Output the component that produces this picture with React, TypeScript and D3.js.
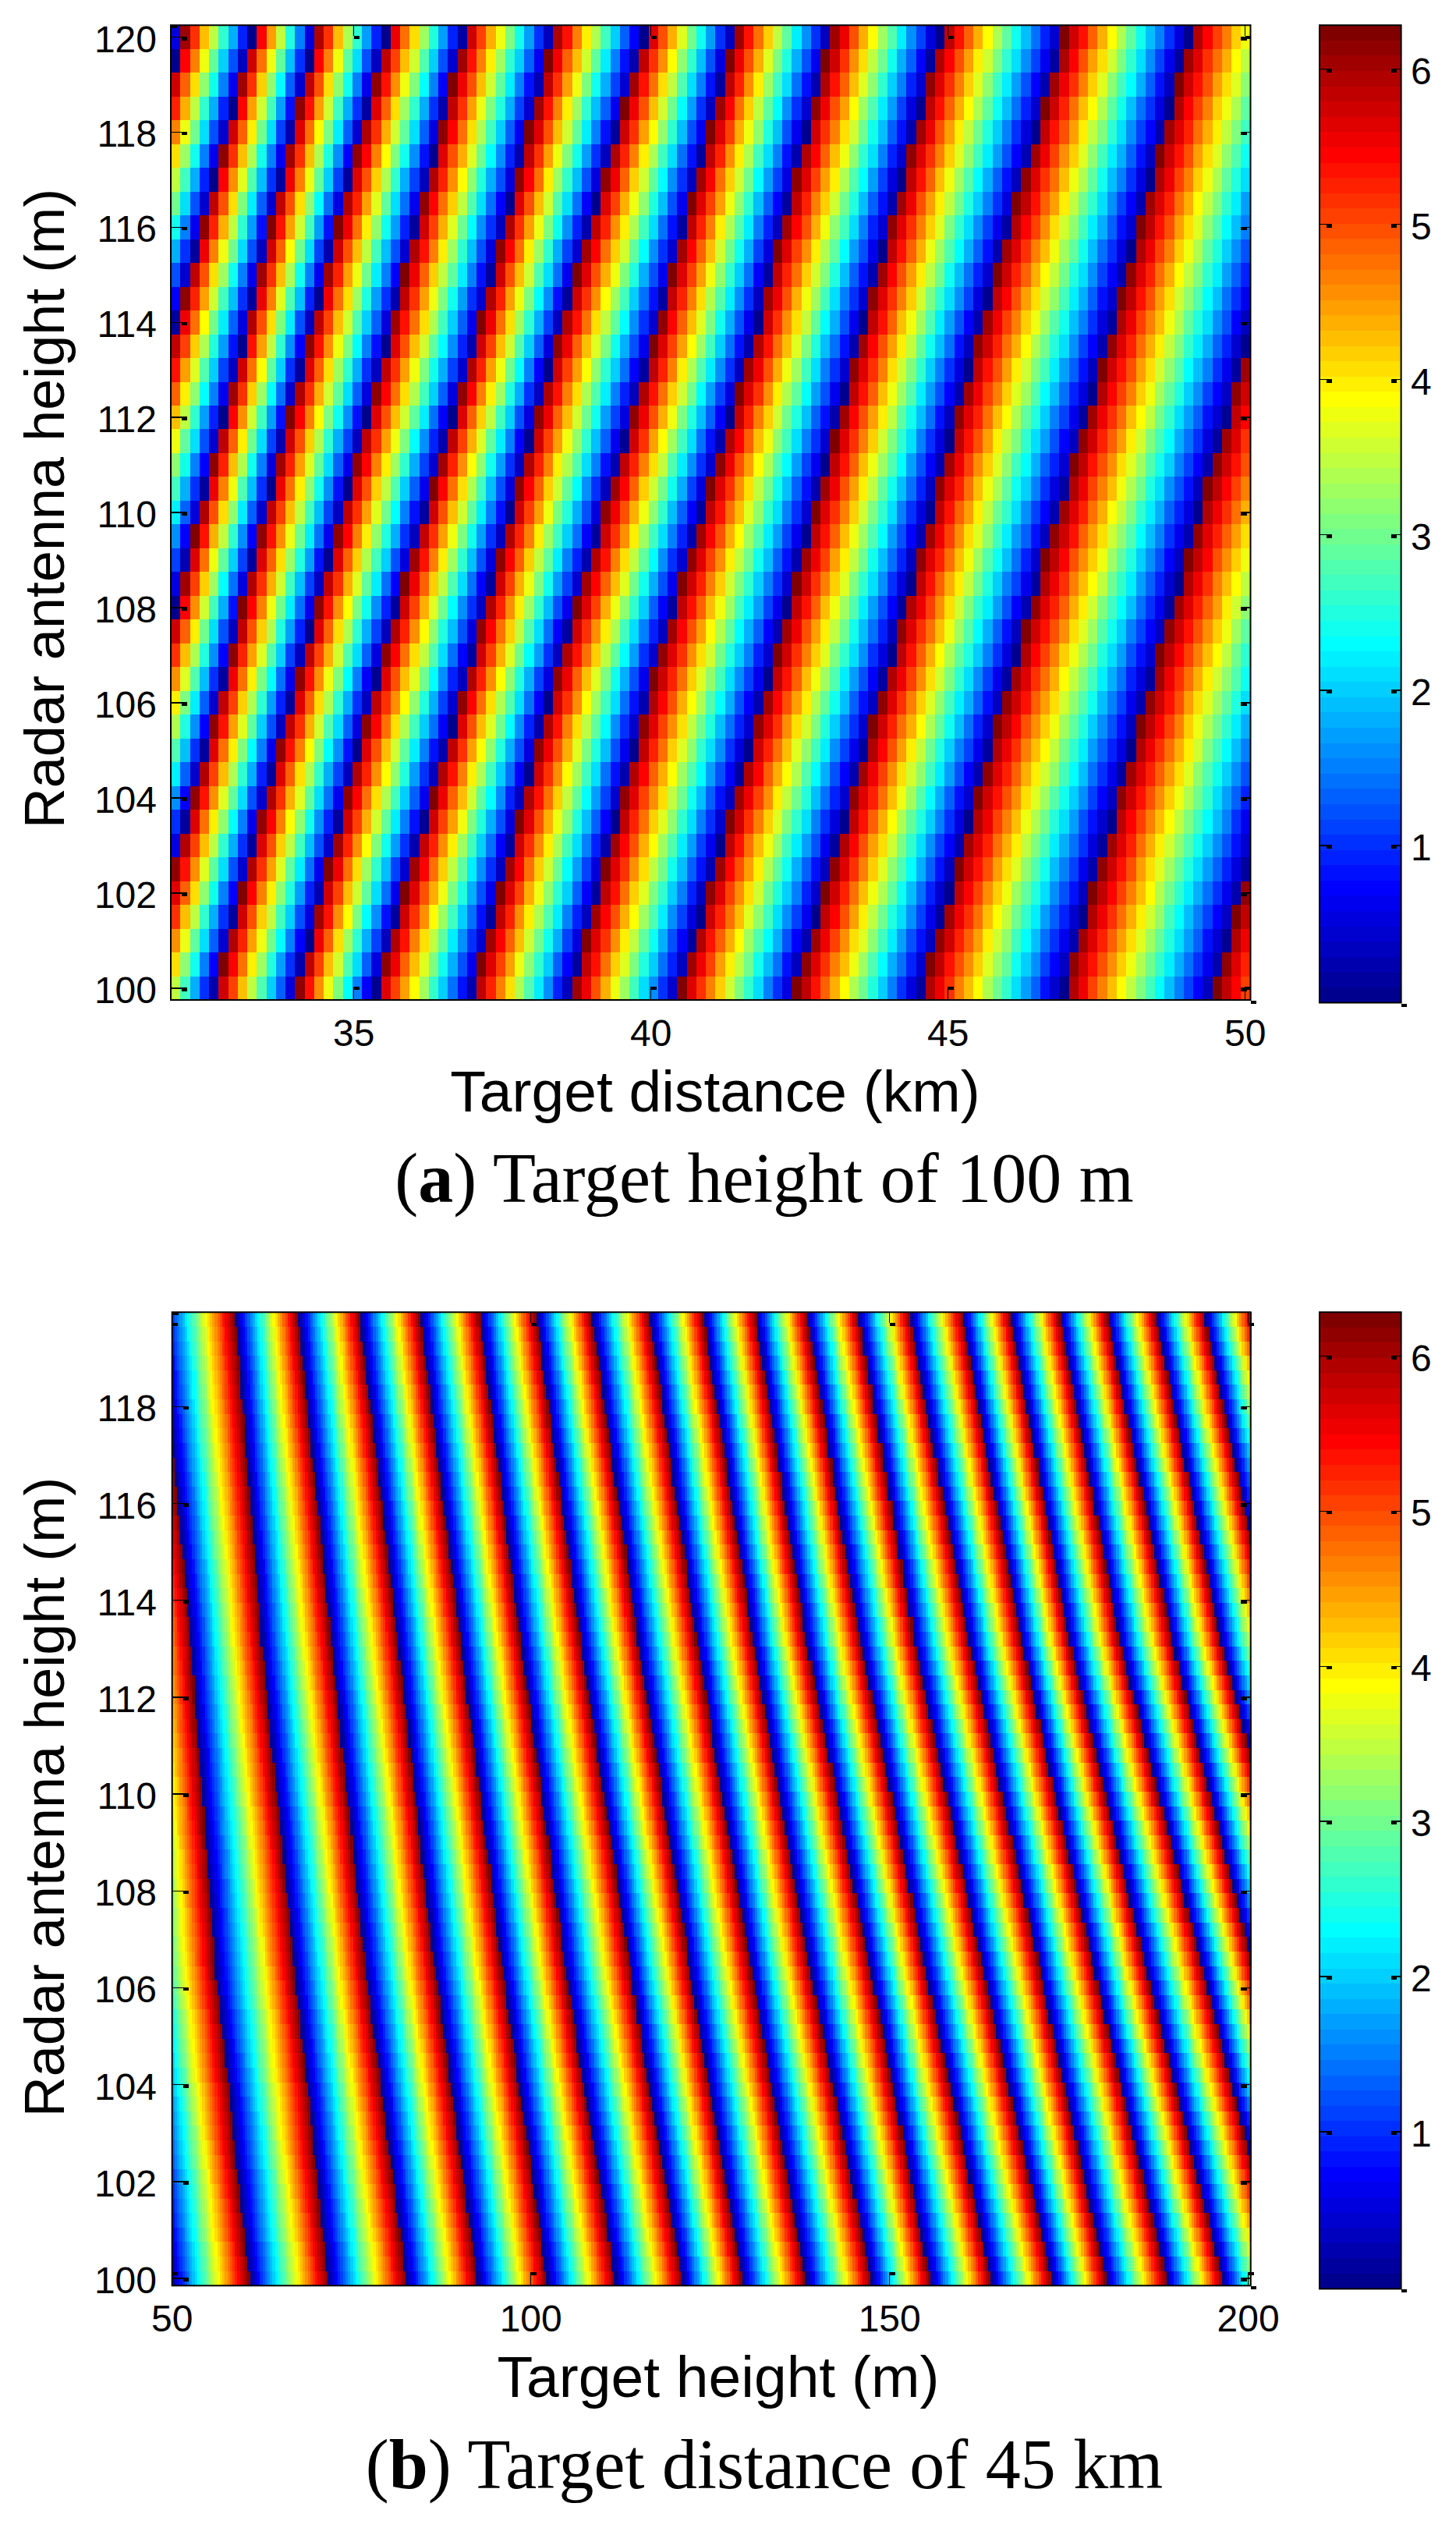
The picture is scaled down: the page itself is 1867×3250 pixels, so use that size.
import { useEffect, useRef } from "react";
import * as d3 from "d3";

const PHASE_MAX = 6.283;

// jet colormap, 64 levels like the colorbars
const JET_STOPS = [0, 7 / 63, 23 / 63, 39 / 63, 55 / 63, 1];
const JET_COLORS = ["#00008f", "#0000ff", "#00ffff", "#ffff00", "#ff0000", "#800000"];

const CBAR_TICKS = [1, 2, 3, 4, 5, 6];

const A_X_TICKS = [35, 40, 45, 50];
const A_Y_TICKS = [100, 102, 104, 106, 108, 110, 112, 114, 116, 118, 120];
const B_X_TICKS = [50, 100, 150, 200];
const B_Y_TICKS = [100, 102, 104, 106, 108, 110, 112, 114, 116, 118];

// (a) target distance (km) where the phase wraps, one list per stripe, 41 rows from the top row down
const A_STRIPES = [
  [32.11, 32.01, 31.9, 31.8, 31.69, 31.59, 31.48, 31.38, 31.27, 31.17, 31.06, 30.96, 30.85, 30.75,
    30.65, 30.54, 30.44, 30.33, 30.23, 30.12, 30.02, 29.91, 29.81, 29.7, 29.6, 29.49, 29.39, 29.28,
    29.18, 29.07, 28.97, 28.86, 28.76, 28.65, 28.55, 28.44, 28.34, 28.23, 28.13, 28.02, 27.92],
  [33.3, 33.19, 33.09, 32.98, 32.88, 32.77, 32.66, 32.56, 32.45, 32.35, 32.24, 32.13, 32.03, 31.92,
    31.82, 31.72, 31.62, 31.51, 31.41, 31.31, 31.21, 31.11, 31.01, 30.9, 30.8, 30.7, 30.6, 30.5,
    30.4, 30.3, 30.2, 30.1, 30.0, 29.9, 29.8, 29.7, 29.6, 29.5, 29.4, 29.3, 29.2],
  [34.35, 34.26, 34.16, 34.07, 33.97, 33.88, 33.79, 33.69, 33.6, 33.51, 33.41, 33.32, 33.22, 33.13,
    33.03, 32.93, 32.82, 32.72, 32.62, 32.52, 32.42, 32.31, 32.21, 32.11, 32.01, 31.9, 31.8, 31.7,
    31.59, 31.48, 31.38, 31.27, 31.16, 31.05, 30.95, 30.84, 30.73, 30.62, 30.52, 30.41, 30.3],
  [35.55, 35.45, 35.34, 35.24, 35.14, 35.03, 34.93, 34.83, 34.73, 34.62, 34.52, 34.42, 34.31, 34.21,
    34.11, 34.01, 33.91, 33.81, 33.71, 33.62, 33.52, 33.42, 33.32, 33.22, 33.12, 33.03, 32.93, 32.83,
    32.72, 32.62, 32.51, 32.41, 32.3, 32.19, 32.09, 31.98, 31.88, 31.77, 31.66, 31.56, 31.45],
  [36.86, 36.76, 36.66, 36.56, 36.46, 36.36, 36.25, 36.15, 36.05, 35.95, 35.85, 35.75, 35.65, 35.55,
    35.44, 35.34, 35.23, 35.12, 35.02, 34.91, 34.8, 34.7, 34.59, 34.48, 34.37, 34.27, 34.16, 34.05,
    33.95, 33.84, 33.74, 33.63, 33.53, 33.42, 33.32, 33.21, 33.11, 33.0, 32.9, 32.79, 32.69],
  [38.36, 38.26, 38.16, 38.05, 37.95, 37.85, 37.75, 37.65, 37.54, 37.44, 37.34, 37.24, 37.14, 37.04,
    36.92, 36.8, 36.68, 36.56, 36.44, 36.32, 36.21, 36.09, 35.97, 35.85, 35.73, 35.61, 35.5, 35.38,
    35.28, 35.18, 35.07, 34.97, 34.87, 34.77, 34.67, 34.56, 34.46, 34.36, 34.26, 34.15, 34.05],
  [39.89, 39.77, 39.66, 39.54, 39.43, 39.31, 39.2, 39.08, 38.97, 38.85, 38.74, 38.62, 38.51, 38.39,
    38.28, 38.18, 38.07, 37.96, 37.86, 37.75, 37.65, 37.54, 37.43, 37.33, 37.22, 37.11, 37.01, 36.9,
    36.78, 36.67, 36.55, 36.43, 36.32, 36.2, 36.08, 35.96, 35.85, 35.73, 35.61, 35.5, 35.38],
  [41.42, 41.31, 41.21, 41.1, 41.0, 40.89, 40.78, 40.68, 40.57, 40.47, 40.36, 40.25, 40.15, 40.04,
    39.92, 39.8, 39.69, 39.57, 39.45, 39.33, 39.21, 39.1, 38.98, 38.86, 38.74, 38.62, 38.51, 38.39,
    38.29, 38.18, 38.08, 37.97, 37.87, 37.77, 37.66, 37.56, 37.46, 37.35, 37.25, 37.14, 37.04],
  [43.03, 42.93, 42.83, 42.72, 42.62, 42.52, 42.42, 42.32, 42.22, 42.11, 42.01, 41.91, 41.81, 41.71,
    41.59, 41.47, 41.35, 41.23, 41.11, 40.99, 40.88, 40.76, 40.64, 40.52, 40.4, 40.28, 40.16, 40.04,
    39.94, 39.83, 39.73, 39.62, 39.52, 39.42, 39.31, 39.21, 39.11, 39.0, 38.9, 38.79, 38.69],
  [44.87, 44.76, 44.66, 44.55, 44.45, 44.34, 44.23, 44.13, 44.02, 43.92, 43.81, 43.7, 43.6, 43.49,
    43.38, 43.28, 43.17, 43.07, 42.96, 42.85, 42.75, 42.64, 42.54, 42.43, 42.32, 42.21, 42.11, 42.0,
    41.88, 41.77, 41.65, 41.54, 41.42, 41.31, 41.19, 41.08, 40.96, 40.85, 40.73, 40.62, 40.5],
  [46.95, 46.84, 46.72, 46.61, 46.49, 46.38, 46.26, 46.15, 46.03, 45.92, 45.8, 45.69, 45.57, 45.46,
    45.35, 45.25, 45.14, 45.03, 44.93, 44.82, 44.71, 44.61, 44.5, 44.39, 44.28, 44.18, 44.07, 43.96,
    43.84, 43.73, 43.61, 43.49, 43.38, 43.26, 43.14, 43.03, 42.91, 42.8, 42.68, 42.56, 42.45],
  [49.06, 48.95, 48.85, 48.74, 48.64, 48.53, 48.43, 48.32, 48.22, 48.11, 48.01, 47.9, 47.8, 47.69,
    47.57, 47.46, 47.34, 47.22, 47.1, 46.99, 46.87, 46.75, 46.63, 46.52, 46.4, 46.28, 46.17, 46.05,
    45.94, 45.82, 45.71, 45.6, 45.48, 45.37, 45.26, 45.15, 45.03, 44.92, 44.81, 44.69, 44.58],
  [51.45, 51.34, 51.23, 51.12, 51.01, 50.9, 50.79, 50.67, 50.56, 50.45, 50.34, 50.23, 50.14, 50.03,
    49.92, 49.8, 49.69, 49.58, 49.47, 49.35, 49.24, 49.13, 49.02, 48.9, 48.79, 48.68, 48.56, 48.45,
    48.34, 48.22, 48.11, 47.99, 47.88, 47.76, 47.65, 47.53, 47.42, 47.3, 47.19, 47.07, 46.96],
  [53.9, 53.79, 53.68, 53.58, 53.47, 53.36, 53.25, 53.14, 53.04, 52.93, 52.82, 52.71, 52.61, 52.5,
    52.39, 52.28, 52.17, 52.06, 51.95, 51.84, 51.73, 51.61, 51.5, 51.39, 51.28, 51.17, 51.06, 50.95,
    50.84, 50.73, 50.62, 50.5, 50.39, 50.28, 50.17, 50.05, 49.94, 49.83, 49.72, 49.61, 49.5],
];

// (b) target height (m) where the phase wraps, one list per stripe, 67 rows from the top row down
const B_STRIPES = [
  [48.3, 48.5, 48.7, 48.9, 49.1, 49.2, 49.4, 49.6, 49.8, 50.0, 50.2, 50.4, 50.6, 50.8, 51.0, 51.2, 51.4, 51.6, 51.8, 52.0, 52.2, 52.4, 52.5,
    52.7, 52.8, 53.0, 53.1, 53.3, 53.4, 53.6, 53.8, 53.9, 54.1, 54.2, 54.4, 54.5, 54.7, 54.9, 55.0, 55.2, 55.3, 55.5, 55.6, 55.8, 55.9, 56.1,
    56.3, 56.5, 56.8, 57.0, 57.2, 57.4, 57.6, 57.9, 58.1, 58.3, 58.5, 58.7, 58.9, 59.2, 59.4, 59.6, 59.8, 60.0, 60.3, 60.5, 60.7],
  [58.8, 59.0, 59.1, 59.3, 59.5, 59.6, 59.8, 60.0, 60.1, 60.3, 60.4, 60.6, 60.8, 60.9, 61.1, 61.3, 61.4, 61.6, 61.8, 61.9, 62.1, 62.2, 62.4,
    62.6, 62.8, 63.0, 63.2, 63.4, 63.6, 63.8, 64.0, 64.2, 64.4, 64.6, 64.9, 65.1, 65.3, 65.5, 65.7, 65.9, 66.1, 66.3, 66.5, 66.7, 66.9, 67.1,
    67.3, 67.5, 67.8, 68.0, 68.2, 68.4, 68.6, 68.9, 69.1, 69.3, 69.5, 69.7, 69.9, 70.2, 70.4, 70.6, 70.8, 71.0, 71.3, 71.5, 71.7],
  [67.6, 67.8, 68.0, 68.2, 68.4, 68.6, 68.8, 69.0, 69.2, 69.4, 69.7, 69.9, 70.1, 70.3, 70.5, 70.7, 70.9, 71.1, 71.3, 71.5, 71.7, 71.9, 72.1,
    72.3, 72.5, 72.7, 73.0, 73.2, 73.4, 73.6, 73.8, 74.0, 74.2, 74.4, 74.7, 74.9, 75.1, 75.3, 75.5, 75.7, 75.9, 76.1, 76.4, 76.6, 76.8, 77.0,
    77.3, 77.5, 77.8, 78.1, 78.3, 78.6, 78.9, 79.1, 79.4, 79.7, 79.9, 80.2, 80.5, 80.7, 81.0, 81.3, 81.5, 81.8, 82.1, 82.3, 82.6],
  [76.2, 76.4, 76.7, 76.9, 77.1, 77.4, 77.6, 77.9, 78.1, 78.3, 78.6, 78.8, 79.0, 79.3, 79.5, 79.7, 80.0, 80.2, 80.4, 80.7, 80.9, 81.2, 81.4,
    81.6, 81.9, 82.1, 82.3, 82.6, 82.8, 83.0, 83.2, 83.5, 83.7, 83.9, 84.2, 84.4, 84.6, 84.8, 85.1, 85.3, 85.5, 85.8, 86.0, 86.2, 86.5, 86.7,
    87.0, 87.3, 87.5, 87.8, 88.1, 88.4, 88.6, 88.9, 89.2, 89.5, 89.7, 90.0, 90.3, 90.6, 90.8, 91.1, 91.4, 91.7, 91.9, 92.2, 92.5],
  [84.6, 84.9, 85.1, 85.4, 85.6, 85.9, 86.1, 86.4, 86.6, 86.9, 87.1, 87.4, 87.6, 87.9, 88.1, 88.4, 88.6, 88.9, 89.1, 89.4, 89.6, 89.9, 90.1,
    90.4, 90.6, 90.9, 91.1, 91.4, 91.7, 91.9, 92.2, 92.4, 92.7, 93.0, 93.2, 93.5, 93.7, 94.0, 94.3, 94.5, 94.8, 95.0, 95.3, 95.6, 95.8, 96.1,
    96.4, 96.7, 97.0, 97.3, 97.6, 97.8, 98.1, 98.4, 98.7, 99.0, 99.3, 99.6, 99.9, 100.2, 100.5, 100.7, 101.0, 101.3, 101.6, 101.9, 102.2],
  [92.9, 93.2, 93.4, 93.7, 93.9, 94.2, 94.4, 94.7, 94.9, 95.2, 95.5, 95.7, 96.0, 96.2, 96.5, 96.7, 97.0, 97.2, 97.5, 97.7, 98.0, 98.2, 98.5,
    98.8, 99.1, 99.3, 99.6, 99.9, 100.2, 100.4, 100.7, 101.0, 101.3, 101.6, 101.8, 102.1, 102.4, 102.7, 102.9, 103.2, 103.5, 103.8, 104.1, 104.3, 104.6, 104.9,
    105.2, 105.5, 105.9, 106.2, 106.5, 106.8, 107.2, 107.5, 107.8, 108.1, 108.5, 108.8, 109.1, 109.4, 109.8, 110.1, 110.4, 110.7, 111.1, 111.4, 111.7],
  [100.8, 101.1, 101.4, 101.6, 101.9, 102.2, 102.5, 102.7, 103.0, 103.3, 103.6, 103.8, 104.1, 104.4, 104.7, 105.0, 105.2, 105.5, 105.8, 106.1, 106.3, 106.6, 106.9,
    107.2, 107.5, 107.8, 108.1, 108.4, 108.7, 109.0, 109.3, 109.6, 109.9, 110.2, 110.5, 110.8, 111.2, 111.5, 111.8, 112.1, 112.4, 112.7, 113.0, 113.3, 113.6, 113.9,
    114.2, 114.6, 114.9, 115.3, 115.6, 115.9, 116.3, 116.6, 116.9, 117.3, 117.6, 118.0, 118.3, 118.6, 119.0, 119.3, 119.6, 120.0, 120.3, 120.7, 121.0],
  [108.5, 108.8, 109.1, 109.4, 109.7, 110.0, 110.2, 110.5, 110.8, 111.1, 111.4, 111.7, 112.0, 112.3, 112.6, 112.9, 113.2, 113.5, 113.7, 114.0, 114.3, 114.6, 114.9,
    115.2, 115.5, 115.9, 116.2, 116.5, 116.8, 117.1, 117.4, 117.8, 118.1, 118.4, 118.7, 119.0, 119.3, 119.7, 120.0, 120.3, 120.6, 120.9, 121.3, 121.6, 121.9, 122.2,
    122.5, 122.9, 123.2, 123.6, 123.9, 124.3, 124.6, 124.9, 125.3, 125.6, 126.0, 126.3, 126.7, 127.0, 127.3, 127.7, 128.0, 128.4, 128.7, 129.1, 129.4],
  [116.6, 116.9, 117.2, 117.5, 117.8, 118.1, 118.4, 118.7, 119.0, 119.3, 119.6, 119.8, 120.1, 120.4, 120.7, 121.0, 121.3, 121.6, 121.9, 122.2, 122.5, 122.8, 123.1,
    123.4, 123.8, 124.1, 124.4, 124.8, 125.1, 125.4, 125.7, 126.1, 126.4, 126.7, 127.1, 127.4, 127.7, 128.1, 128.4, 128.7, 129.0, 129.4, 129.7, 130.0, 130.4, 130.7,
    131.1, 131.4, 131.8, 132.1, 132.5, 132.9, 133.2, 133.6, 134.0, 134.3, 134.7, 135.0, 135.4, 135.8, 136.1, 136.5, 136.9, 137.2, 137.6, 137.9, 138.3],
  [124.1, 124.4, 124.7, 125.0, 125.3, 125.6, 125.9, 126.3, 126.6, 126.9, 127.2, 127.5, 127.8, 128.1, 128.4, 128.7, 129.0, 129.4, 129.7, 130.0, 130.3, 130.6, 130.9,
    131.3, 131.6, 132.0, 132.3, 132.7, 133.0, 133.4, 133.7, 134.1, 134.4, 134.8, 135.1, 135.5, 135.8, 136.2, 136.5, 136.9, 137.2, 137.6, 137.9, 138.3, 138.6, 139.0,
    139.4, 139.8, 140.2, 140.6, 141.0, 141.4, 141.8, 142.2, 142.6, 143.0, 143.4, 143.8, 144.2, 144.6, 145.0, 145.4, 145.8, 146.2, 146.6, 147.0, 147.4],
  [131.4, 131.7, 132.0, 132.3, 132.7, 133.0, 133.3, 133.6, 133.9, 134.2, 134.5, 134.9, 135.2, 135.5, 135.8, 136.1, 136.4, 136.7, 137.1, 137.4, 137.7, 138.0, 138.3,
    138.7, 139.1, 139.5, 139.9, 140.3, 140.7, 141.1, 141.5, 141.9, 142.3, 142.7, 143.1, 143.4, 143.8, 144.2, 144.6, 145.0, 145.4, 145.8, 146.2, 146.6, 147.0, 147.4,
    147.8, 148.2, 148.6, 149.0, 149.4, 149.7, 150.1, 150.5, 150.9, 151.3, 151.7, 152.1, 152.5, 152.9, 153.3, 153.6, 154.0, 154.4, 154.8, 155.2, 155.6],
  [138.5, 138.8, 139.2, 139.5, 139.8, 140.2, 140.5, 140.9, 141.2, 141.5, 141.9, 142.2, 142.5, 142.9, 143.2, 143.5, 143.9, 144.2, 144.5, 144.9, 145.2, 145.6, 145.9,
    146.3, 146.7, 147.1, 147.5, 147.9, 148.3, 148.7, 149.1, 149.5, 149.9, 150.3, 150.7, 151.1, 151.5, 151.9, 152.3, 152.7, 153.1, 153.5, 153.9, 154.3, 154.7, 155.1,
    155.5, 156.0, 156.4, 156.8, 157.2, 157.7, 158.1, 158.5, 159.0, 159.4, 159.8, 160.2, 160.7, 161.1, 161.5, 162.0, 162.4, 162.8, 163.2, 163.7, 164.1],
  [145.7, 146.1, 146.4, 146.8, 147.1, 147.5, 147.8, 148.2, 148.5, 148.9, 149.2, 149.6, 149.9, 150.3, 150.6, 151.0, 151.3, 151.7, 152.0, 152.4, 152.7, 153.1, 153.4,
    153.8, 154.2, 154.7, 155.1, 155.5, 155.9, 156.3, 156.8, 157.2, 157.6, 158.0, 158.5, 158.9, 159.3, 159.7, 160.1, 160.6, 161.0, 161.4, 161.8, 162.2, 162.7, 163.1,
    163.6, 164.0, 164.5, 164.9, 165.4, 165.8, 166.3, 166.7, 167.2, 167.6, 168.1, 168.5, 169.0, 169.4, 169.9, 170.3, 170.8, 171.2, 171.7, 172.1, 172.6],
  [152.9, 153.3, 153.6, 154.0, 154.4, 154.7, 155.1, 155.5, 155.8, 156.2, 156.6, 156.9, 157.3, 157.7, 158.1, 158.4, 158.8, 159.2, 159.5, 159.9, 160.3, 160.6, 161.0,
    161.4, 161.9, 162.3, 162.7, 163.2, 163.6, 164.0, 164.5, 164.9, 165.3, 165.8, 166.2, 166.6, 167.1, 167.5, 168.0, 168.4, 168.8, 169.3, 169.7, 170.1, 170.6, 171.0,
    171.4, 171.9, 172.3, 172.7, 173.2, 173.6, 174.0, 174.5, 174.9, 175.3, 175.8, 176.2, 176.6, 177.1, 177.5, 177.9, 178.4, 178.8, 179.2, 179.7, 180.1],
  [160.2, 160.6, 160.9, 161.3, 161.7, 162.0, 162.4, 162.8, 163.1, 163.5, 163.9, 164.2, 164.6, 165.0, 165.4, 165.7, 166.1, 166.5, 166.8, 167.2, 167.6, 167.9, 168.3,
    168.7, 169.2, 169.6, 170.1, 170.5, 171.0, 171.4, 171.9, 172.3, 172.8, 173.2, 173.7, 174.1, 174.6, 175.0, 175.5, 175.9, 176.4, 176.8, 177.3, 177.7, 178.2, 178.6,
    179.1, 179.6, 180.0, 180.5, 181.0, 181.5, 181.9, 182.4, 182.9, 183.4, 183.8, 184.3, 184.8, 185.3, 185.7, 186.2, 186.7, 187.2, 187.6, 188.1, 188.6],
  [166.9, 167.3, 167.6, 168.0, 168.4, 168.7, 169.1, 169.5, 169.8, 170.2, 170.6, 170.9, 171.3, 171.7, 172.1, 172.4, 172.8, 173.2, 173.5, 173.9, 174.3, 174.6, 175.0,
    175.5, 175.9, 176.4, 176.9, 177.4, 177.8, 178.3, 178.8, 179.3, 179.7, 180.2, 180.7, 181.2, 181.6, 182.1, 182.6, 183.1, 183.5, 184.0, 184.5, 185.0, 185.4, 185.9,
    186.4, 186.9, 187.4, 187.9, 188.4, 188.9, 189.4, 189.9, 190.4, 190.9, 191.4, 191.9, 192.4, 192.9, 193.4, 193.9, 194.4, 194.9, 195.4, 195.9, 196.4],
  [173.8, 174.2, 174.5, 174.9, 175.3, 175.7, 176.0, 176.4, 176.8, 177.2, 177.5, 177.9, 178.3, 178.6, 179.0, 179.4, 179.8, 180.1, 180.5, 180.9, 181.3, 181.6, 182.0,
    182.5, 183.0, 183.5, 184.1, 184.6, 185.1, 185.6, 186.1, 186.6, 187.1, 187.6, 188.2, 188.7, 189.2, 189.7, 190.2, 190.7, 191.2, 191.7, 192.3, 192.8, 193.3, 193.8,
    194.3, 194.8, 195.3, 195.8, 196.3, 196.8, 197.3, 197.8, 198.3, 198.9, 199.4, 199.9, 200.4, 200.9, 201.4, 201.9, 202.4, 202.9, 203.4, 203.9, 204.4],
  [180.4, 180.8, 181.2, 181.6, 182.0, 182.4, 182.8, 183.2, 183.6, 184.0, 184.4, 184.9, 185.3, 185.7, 186.1, 186.5, 186.9, 187.3, 187.7, 188.1, 188.5, 188.9, 189.3,
    189.8, 190.3, 190.8, 191.3, 191.8, 192.3, 192.8, 193.3, 193.8, 194.3, 194.8, 195.3, 195.8, 196.3, 196.8, 197.3, 197.8, 198.3, 198.8, 199.3, 199.8, 200.3, 200.8,
    201.3, 201.8, 202.4, 202.9, 203.4, 203.9, 204.5, 205.0, 205.5, 206.0, 206.6, 207.1, 207.6, 208.1, 208.7, 209.2, 209.7, 210.2, 210.8, 211.3, 211.8],
  [187.2, 187.6, 188.0, 188.4, 188.8, 189.2, 189.6, 190.0, 190.4, 190.8, 191.2, 191.7, 192.1, 192.5, 192.9, 193.3, 193.7, 194.1, 194.5, 194.9, 195.3, 195.7, 196.1,
    196.6, 197.1, 197.7, 198.2, 198.7, 199.2, 199.7, 200.2, 200.8, 201.3, 201.8, 202.3, 202.8, 203.3, 203.9, 204.4, 204.9, 205.4, 205.9, 206.4, 207.0, 207.5, 208.0,
    208.5, 209.0, 209.6, 210.1, 210.6, 211.1, 211.7, 212.2, 212.7, 213.2, 213.8, 214.3, 214.8, 215.3, 215.9, 216.4, 216.9, 217.4, 218.0, 218.5, 219.0],
  [194.0, 194.4, 194.8, 195.3, 195.7, 196.1, 196.5, 196.9, 197.3, 197.8, 198.2, 198.6, 199.0, 199.4, 199.9, 200.3, 200.7, 201.1, 201.5, 201.9, 202.4, 202.8, 203.2,
    203.7, 204.2, 204.7, 205.2, 205.8, 206.3, 206.8, 207.3, 207.8, 208.3, 208.8, 209.3, 209.8, 210.3, 210.8, 211.4, 211.9, 212.4, 212.9, 213.4, 213.9, 214.4, 214.9,
    215.4, 216.0, 216.5, 217.0, 217.5, 218.1, 218.6, 219.1, 219.6, 220.2, 220.7, 221.2, 221.7, 222.3, 222.8, 223.3, 223.8, 224.4, 224.9, 225.4, 226.0],
];

const SANS = "'Liberation Sans', Arial, sans-serif";
const SERIF = "'Liberation Serif', 'Times New Roman', serif";

const jet = d3
  .scaleLinear<string>()
  .domain(JET_STOPS)
  .range(JET_COLORS)
  .interpolate(d3.interpolateRgb);

const levelColor = (v: number) => {
  const level = Math.min(63, Math.max(0, Math.floor((v / PHASE_MAX) * 64)));
  return jet(level / 63);
};

// phase of one cell from the wrap positions of its row
function phaseAt(x: number, wraps: number[], falling: boolean) {
  const i = d3.bisectRight(wraps, x);
  const lo = i > 0 ? wraps[i - 1] : wraps[0] - (wraps[1] - wraps[0]);
  const last = wraps.length - 1;
  const hi = i <= last ? wraps[i] : wraps[last] + (wraps[last] - wraps[last - 1]);
  const t = (x - lo) / (hi - lo);
  return (falling ? 1 - t : t) * PHASE_MAX;
}

function drawPanel(svg: any, p: any) {
  const { left, right, top, bottom } = p.box;
  const x = d3.scaleLinear().domain(p.xDomain).range([left, right]);
  const y = d3.scaleLinear().domain(p.yDomain).range([bottom, top]);
  const g = svg.append("g");

  const nCols = Math.round((p.xDomain[1] - p.xDomain[0]) / p.xStep);
  const cells: any[] = [];
  p.rows.forEach((wraps: number[], r: number) => {
    const h = p.yTop - r * p.yStep;
    d3.range(nCols).forEach((c) => {
      const x0 = p.xDomain[0] + c * p.xStep;
      cells.push({ x0, h, v: phaseAt(x0 + p.xStep / 2, wraps, p.falling) });
    });
  });

  g.append("g")
    .attr("shape-rendering", "crispEdges")
    .selectAll("rect")
    .data(cells)
    .join("rect")
    .attr("x", (d: any) => x(d.x0))
    .attr("y", (d: any) => y(d.h + p.yStep / 2))
    .attr("width", (d: any) => x(d.x0 + p.xStep) - x(d.x0))
    .attr("height", y(p.yTop - p.yStep) - y(p.yTop))
    .attr("fill", (d: any) => levelColor(d.v));

  drawFrame(g, left, right, top, bottom);

  // MATLAB style ticks, a thin line ending in a small black block
  const marks = g.append("g").attr("shape-rendering", "crispEdges");
  p.xTicks.forEach((t: number) => {
    const px = x(t);
    tickLine(marks, px, bottom, px, bottom - 17);
    marks.append("rect").attr("x", px).attr("y", bottom - 17).attr("width", 7).attr("height", 4);
    tickLine(marks, px, top, px, top + 14);
    marks.append("rect").attr("x", px).attr("y", top + 14).attr("width", 7).attr("height", 4);
  });
  p.yTicks.forEach((t: number) => {
    const py = y(t);
    tickLine(marks, left, py, left + 21, py);
    marks.append("rect").attr("x", left + 14).attr("y", py).attr("width", 7).attr("height", 4);
    tickLine(marks, right - 13, py, right, py);
    marks.append("rect").attr("x", right - 13).attr("y", py).attr("width", 8).attr("height", 4);
  });
  marks.append("rect").attr("x", left).attr("y", top).attr("width", 8).attr("height", 4);
  marks.append("rect").attr("x", right).attr("y", bottom + 1).attr("width", 7).attr("height", 4);

  const labels = g.append("g").attr("font-family", SANS).attr("fill", "#000");
  labels
    .selectAll("text.xt")
    .data(p.xTicks)
    .join("text")
    .attr("class", "xt")
    .attr("x", (d: number) => x(d))
    .attr("y", bottom + 59)
    .attr("text-anchor", "middle")
    .attr("font-size", 48)
    .text((d: number) => d);
  labels
    .selectAll("text.yt")
    .data(p.yTicks)
    .join("text")
    .attr("class", "yt")
    .attr("x", 201)
    .attr("y", (d: number) => y(d) + 19)
    .attr("text-anchor", "end")
    .attr("font-size", 48)
    .text((d: number) => d);
  labels
    .append("text")
    .attr("x", p.xLabelAt)
    .attr("y", bottom + 143)
    .attr("text-anchor", "middle")
    .attr("font-size", 75)
    .text(p.xLabel);
  labels
    .append("text")
    .attr("transform", `translate(82,${p.yLabelAt}) rotate(-90)`)
    .attr("text-anchor", "middle")
    .attr("font-size", 72)
    .text("Radar antenna height (m)");

  const caption = g
    .append("text")
    .attr("x", 980)
    .attr("y", p.captionY)
    .attr("text-anchor", "middle")
    .attr("font-family", SERIF)
    .attr("font-size", 90)
    .attr("fill", "#000");
  caption.append("tspan").text("(");
  caption.append("tspan").attr("font-weight", "bold").text(p.letter);
  caption.append("tspan").text(") " + p.caption);

  drawColorbar(g, top, p.cbarBottom);
}

function drawFrame(g: any, left: number, right: number, top: number, bottom: number) {
  g.append("rect")
    .attr("x", left)
    .attr("y", top)
    .attr("width", right - left)
    .attr("height", bottom - top)
    .attr("fill", "none")
    .attr("stroke", "#000")
    .attr("stroke-width", 2);
}

function tickLine(g: any, x1: number, y1: number, x2: number, y2: number) {
  g.append("line")
    .attr("x1", x1)
    .attr("y1", y1)
    .attr("x2", x2)
    .attr("y2", y2)
    .attr("stroke", "#000")
    .attr("stroke-width", 1.5);
}

function drawColorbar(g: any, top: number, bottom: number) {
  const left = 1692;
  const right = 1796.6;
  const y = d3.scaleLinear().domain([-0.0135, PHASE_MAX]).range([bottom, top]);
  const band = d3
    .scaleBand<number>()
    .domain(d3.range(64))
    .range([bottom, top]);

  g.append("g")
    .attr("shape-rendering", "crispEdges")
    .selectAll("rect")
    .data(d3.range(64))
    .join("rect")
    .attr("x", left)
    .attr("width", right - left)
    .attr("y", (d: number) => band(d))
    .attr("height", Math.abs(band.bandwidth()))
    .attr("fill", (d: number) => jet(d / 63));

  drawFrame(g, left, right, top, bottom);

  const marks = g.append("g").attr("shape-rendering", "crispEdges");
  CBAR_TICKS.forEach((t) => {
    const py = y(t);
    tickLine(marks, left, py, left + 15.5, py);
    marks.append("rect").attr("x", left + 9).attr("y", py).attr("width", 7).attr("height", 4);
    tickLine(marks, right - 13, py, right, py);
    marks.append("rect").attr("x", right - 13).attr("y", py).attr("width", 7).attr("height", 4);
  });
  marks.append("rect").attr("x", right).attr("y", bottom + 1).attr("width", 7).attr("height", 4);

  g.append("g")
    .selectAll("text")
    .data(CBAR_TICKS)
    .join("text")
    .attr("x", 1809)
    .attr("y", (d: number) => y(d) + 19)
    .attr("font-family", SANS)
    .attr("font-size", 48)
    .attr("fill", "#000")
    .text((d: number) => d);
}

export default function App() {
  const svgRef = useRef<SVGSVGElement>(null);

  useEffect(() => {
    const svg = d3.select(svgRef.current);
    svg.selectAll("*").remove();

    drawPanel(svg, {
      box: { left: 219, right: 1603.5, top: 32.3, bottom: 1282 },
      xDomain: [31.92, 50.09],
      yDomain: [99.75, 120.25],
      xStep: 0.1608,
      yStep: 0.5,
      yTop: 120,
      rows: d3.transpose(A_STRIPES),
      falling: true,
      xTicks: A_X_TICKS,
      yTicks: A_Y_TICKS,
      xLabel: "Target distance (km)",
      xLabelAt: 917,
      yLabelAt: 652,
      letter: "a",
      caption: "Target height of 100 m",
      captionY: 1541,
      cbarBottom: 1285.5,
    });

    drawPanel(svg, {
      box: { left: 220.7, right: 1603.7, top: 1682.3, bottom: 2930.3 },
      xDomain: [50, 200.33],
      yDomain: [99.85, 119.95],
      xStep: 0.35,
      yStep: 0.3,
      yTop: 119.8,
      rows: d3.transpose(B_STRIPES),
      falling: false,
      xTicks: B_X_TICKS,
      yTicks: B_Y_TICKS,
      xLabel: "Target height (m)",
      xLabelAt: 921,
      yLabelAt: 2304,
      letter: "b",
      caption: "Target distance of 45 km",
      captionY: 3190,
      cbarBottom: 2934.4,
    });
  }, []);

  return (
    <svg
      ref={svgRef}
      width={1867}
      height={3250}
      style={{ position: "absolute", left: 0, top: 0, display: "block", background: "#fff" }}
    />
  );
}
